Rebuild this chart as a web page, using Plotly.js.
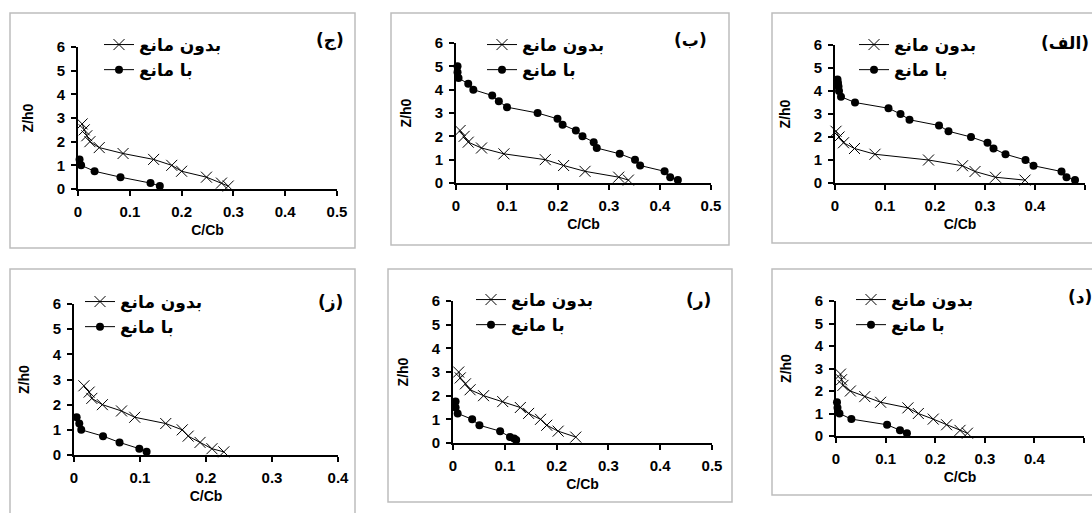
<!DOCTYPE html>
<html>
<head>
<meta charset="utf-8">
<script src="https://cdn.plot.ly/plotly-3.0.1.min.js"></script>
<style>html,body{margin:0;padding:0;background:#fff;}#chart{width:1092px;height:513px;}</style>
</head>
<body>
<div id="chart"></div>
<script>
// ---------- data ----------
const seriesNames = ["بدون مانع", "با مانع"];
const panelLabels = ["(الف)", "(ب)", "(ج)", "(د)", "(ر)", "(ز)"];
const xTitle = "C/Cb";
const yTitle = "Z/h0";
const yTickVals = [0, 1, 2, 3, 4, 5, 6];
const yTickLabels = ["0", "1", "2", "3", "4", "5", "6"];
const xTickVals5 = [0, 0.1, 0.2, 0.3, 0.4, 0.5];
const xTickLabels5 = ["0", "0.1", "0.2", "0.3", "0.4", "0.5"];
const xTickVals4 = [0, 0.1, 0.2, 0.3, 0.4];
const xTickLabels4 = ["0", "0.1", "0.2", "0.3", "0.4"];

// (الف)
const alefBedunX = [0.002,0.008,0.017,0.039,0.08,0.187,0.255,0.28,0.321,0.38];
const alefBedunY = [2.25,2,1.75,1.5,1.25,1,0.75,0.5,0.25,0.125];
const alefBaX = [0.005,0.006,0.007,0.008,0.012,0.04,0.107,0.131,0.149,0.208,0.227,0.272,0.305,0.317,0.341,0.381,0.397,0.453,0.463,0.48];
const alefBaY = [4.5,4.35,4.2,4.0,3.75,3.5,3.25,3,2.75,2.5,2.25,2,1.75,1.5,1.25,1,0.75,0.5,0.25,0.125];

// (ب)
const beBedunX = [0.008,0.016,0.024,0.05,0.094,0.175,0.211,0.253,0.319,0.338];
const beBedunY = [2.25,2,1.75,1.5,1.25,1,0.75,0.5,0.25,0.125];
const beBaX = [0.003,0.003,0.005,0.024,0.034,0.071,0.084,0.1,0.16,0.199,0.209,0.235,0.248,0.27,0.276,0.321,0.351,0.361,0.409,0.42,0.435];
const beBaY = [5,4.75,4.5,4.25,4,3.75,3.5,3.25,3,2.75,2.5,2.25,2,1.75,1.5,1.25,1,0.75,0.5,0.25,0.125];

// (ج)
const jimBedunX = [0.008,0.012,0.017,0.023,0.041,0.087,0.146,0.181,0.2,0.248,0.277,0.29];
const jimBedunY = [2.75,2.5,2.25,2,1.75,1.5,1.25,1,0.75,0.5,0.25,0.125];
const jimBaX = [0.003,0.006,0.032,0.082,0.14,0.158];
const jimBaY = [1.25,1,0.75,0.5,0.25,0.125];

// (د)
const dalBedunX = [0.009,0.011,0.014,0.029,0.058,0.09,0.145,0.166,0.196,0.223,0.25,0.265];
const dalBedunY = [2.75,2.5,2.25,2,1.75,1.5,1.25,1,0.75,0.5,0.25,0.125];
const dalBaX = [0.002,0.003,0.007,0.031,0.103,0.129,0.143];
const dalBaY = [1.5,1.25,1,0.75,0.5,0.25,0.125];

// (ر)
const reBedunX = [0.011,0.014,0.024,0.033,0.059,0.096,0.13,0.146,0.169,0.181,0.203,0.237];
const reBedunY = [3,2.75,2.5,2.25,2,1.75,1.5,1.25,1,0.75,0.5,0.25];
const reBaX = [0.005,0.005,0.009,0.037,0.051,0.091,0.11,0.118,0.122];
const reBaY = [1.75,1.5,1.25,1,0.75,0.5,0.25,0.19,0.125];

// (ز)
const zeBedunX = [0.015,0.023,0.027,0.043,0.072,0.092,0.139,0.164,0.173,0.191,0.209,0.227];
const zeBedunY = [2.75,2.5,2.25,2,1.75,1.5,1.25,1,0.75,0.5,0.25,0.125];
const zeBaX = [0.004,0.008,0.011,0.044,0.069,0.099,0.11];
const zeBaY = [1.5,1.25,1,0.75,0.5,0.25,0.125];

const xMax = [0.5, 0.5, 0.5, 0.5, 0.5, 0.4];

// ---------- layout geometry (pixels) ----------
const W = 1092, H = 513;
const plotPx = [
  [835, 1085, 183, 45],   // الف
  [456, 711, 183, 43],    // ب
  [78, 337, 189, 47],     // ج
  [836, 1084, 436, 301],  // د
  [453, 712, 443, 301],   // ر
  [74, 338, 455, 304]     // ز
];
const boxPx = [
  [772, 13, 1100, 243],
  [391, 13, 729, 245],
  [10, 13, 355, 248],
  [772, 269, 1100, 495],
  [388, 269, 732, 502],
  [10, 269, 355, 520]
];
const legPx = [
  [890, 43], [518, 43], [135, 43], [887, 298], [507, 298], [116, 300]
];
const labPx = [
  [1065, 43], [690, 40], [330, 40], [1080, 297], [698, 300], [330, 302]
];

const panels = [
  [alefBedunX, alefBedunY, alefBaX, alefBaY],
  [beBedunX, beBedunY, beBaX, beBaY],
  [jimBedunX, jimBedunY, jimBaX, jimBaY],
  [dalBedunX, dalBedunY, dalBaX, dalBaY],
  [reBedunX, reBedunY, reBaX, reBaY],
  [zeBedunX, zeBedunY, zeBaX, zeBaY]
];

const px2x = p => p / W;
const px2y = p => 1 - p / H;

const LRM = "\u200E";

const data = [];
const layout = {
  width: W, height: H,
  margin: {l: 0, r: 0, t: 0, b: 0},
  font: {family: "Arial", size: 15, color: "#000", weight: "bold"},
  paper_bgcolor: "#fff", plot_bgcolor: "rgba(0,0,0,0)",
  showlegend: true,
  shapes: [], annotations: []
};

panels.forEach((p, i) => {
  const n = i + 1;
  const xa = n === 1 ? "x" : "x" + n;
  const ya = n === 1 ? "y" : "y" + n;
  const lg = n === 1 ? "legend" : "legend" + n;
  data.push({
    x: p[0], y: p[1], xaxis: xa, yaxis: ya, legend: lg, legendgroup: "a" + n,
    name: seriesNames[0], type: "scatter", mode: "lines+markers", cliponaxis: false,
    line: {color: "#000", width: 1},
    marker: {symbol: "x-thin-open", size: 11, color: "#000", line: {color: "#000", width: 1}}
  });
  data.push({
    x: p[2], y: p[3], xaxis: xa, yaxis: ya, legend: lg, legendgroup: "b" + n,
    name: seriesNames[1], type: "scatter", mode: "lines+markers", cliponaxis: false,
    line: {color: "#000", width: 1},
    marker: {symbol: "circle", size: 8, color: "#000"}
  });
  const pp = plotPx[i];
  const xKey = n === 1 ? "xaxis" : "xaxis" + n;
  const yKey = n === 1 ? "yaxis" : "yaxis" + n;
  const xv = xMax[i] === 0.4 ? xTickVals4 : xTickVals5;
  const xt = xMax[i] === 0.4 ? xTickLabels4 : xTickLabels5;
  layout[xKey] = {
    domain: [px2x(pp[0]), px2x(pp[1])], anchor: ya, range: [0, xMax[i]],
    tickmode: "array", tickvals: xv, ticktext: xt,
    showgrid: false, zeroline: false, showline: true, linecolor: "#000", linewidth: 2,
    ticks: "outside", ticklen: 5, tickwidth: 2, tickcolor: "#000", ticklabelstandoff: 3,
    tickfont: {family: "Arial", size: 15, color: "#000", weight: "bold"},
    title: {text: xTitle, font: {family: "Arial", size: 14, color: "#000", weight: "bold"}, standoff: 6},
    automargin: false, fixedrange: true
  };
  layout[yKey] = {
    domain: [px2y(pp[2]), px2y(pp[3])], anchor: xa, range: [0, 6],
    tickmode: "array", tickvals: yTickVals, ticktext: yTickLabels,
    showgrid: false, zeroline: false, showline: true, linecolor: "#000", linewidth: 2,
    ticks: "outside", ticklen: 5, tickwidth: 2, tickcolor: "#000", ticklabelstandoff: 3,
    tickfont: {family: "Arial", size: 15, color: "#000", weight: "bold"},
    title: {text: yTitle, font: {family: "Arial", size: 14, color: "#000", weight: "bold"}, standoff: 20},
    automargin: false, fixedrange: true
  };
  layout[lg] = {
    x: px2x(legPx[i][0] - 36), y: px2y(legPx[i][1] - 16), xanchor: "left", yanchor: "top",
    xref: "paper", yref: "paper",
    bgcolor: "rgba(0,0,0,0)", borderwidth: 0,
    font: {family: "DejaVu Sans", size: 17, color: "#000", weight: "bold"},
    traceorder: "grouped", tracegroupgap: 0, itemwidth: 30
  };
  const b = boxPx[i];
  layout.shapes.push({
    type: "rect", xref: "paper", yref: "paper",
    x0: px2x(b[0]), x1: px2x(b[2]), y0: px2y(b[3]), y1: px2y(b[1]),
    line: {color: "#bdbdbd", width: 1.5}, fillcolor: "rgba(0,0,0,0)", layer: "below"
  });
  layout.annotations.push({
    xref: "paper", yref: "paper", x: px2x(labPx[i][0]), y: px2y(labPx[i][1]),
    xanchor: "center", yanchor: "middle", showarrow: false,
    text: LRM + panelLabels[i].replace(")", LRM + ")") + LRM,
    font: {family: "DejaVu Sans", size: 17, color: "#000", weight: "bold"}
  });
});

Plotly.newPlot("chart", data, layout, {staticPlot: true, displayModeBar: false});
</script>
</body>
</html>
